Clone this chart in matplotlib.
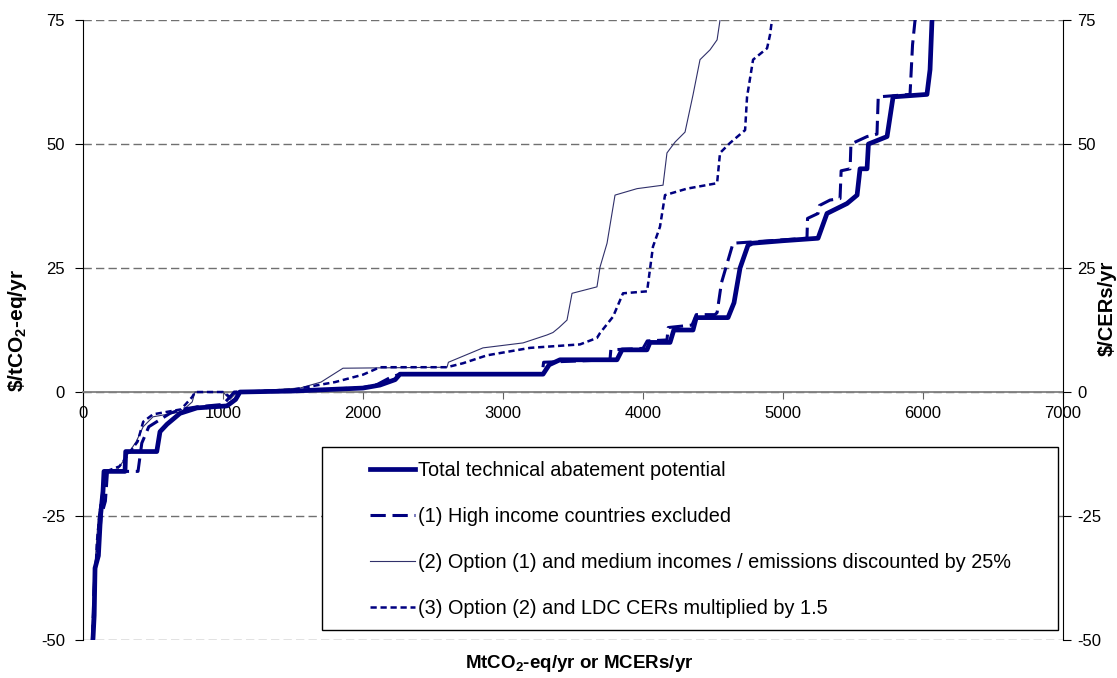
import matplotlib
matplotlib.use("Agg")
import matplotlib.pyplot as plt
from matplotlib.patches import Rectangle

plt.rcParams['font.family'] = ['Liberation Sans', 'DejaVu Sans']
plt.rcParams['mathtext.default'] = 'regular'
plt.rcParams['axes.unicode_minus'] = False

# Total technical abatement potential
total_x = [71, 80, 86, 110, 125, 143, 150, 300, 305, 527, 550, 600, 693, 814, 1028, 1090, 1121,
           1500, 2000, 2121, 2230, 2264, 3286, 3330, 3407, 3814, 3850, 4028, 4050, 4193, 4220,
           4357, 4380, 4607, 4650, 4693, 4750, 4780, 5000, 5250, 5314, 5457, 5529, 5550, 5600,
           5610, 5743, 5786, 6028, 6050, 6064]
total_y = [-50, -45, -35.5, -33, -25, -20, -16, -16, -12, -12, -8, -6.5, -4.3, -3.2, -2.8, -1.5, 0,
           0.2, 0.8, 1.4, 2.5, 3.6, 3.6, 5.5, 6.5, 6.5, 8.5, 8.5, 10, 10, 12.5,
           12.5, 15, 15, 18, 25, 29.6, 30, 30.5, 31, 36, 38, 39.7, 45, 45,
           50, 51.5, 59.5, 60, 65, 75]

# (1) High income countries excluded
hi_x = [68, 78, 90, 115, 130, 160, 175, 393, 420, 470, 621, 700, 814, 1000, 1050, 1080,
        1500, 2000, 2100, 2200, 2264, 3279, 3290, 3764, 3770, 4000, 4030, 4171, 4180, 4350,
        4380, 4514, 4529, 4560, 4643, 5171, 5175, 5250, 5260, 5336, 5407, 5415, 5479, 5485,
        5600, 5671, 5680, 5907, 5925, 5943]
hi_y = [-50, -40, -35, -30, -25, -22, -16, -16, -10.3, -7, -4.3, -3.5, -3, -2.5, -1, 0,
        0.2, 0.9, 1.5, 3, 3.6, 3.6, 6, 6.5, 8.5, 8.8, 10.3, 10.5, 13, 13.5,
        15.6, 15.6, 16, 22, 30, 31, 35, 36, 37.6, 38.7, 39, 44.6, 45, 50,
        51.5, 52, 59.5, 60, 70, 75]

# (2) Option (1) and medium incomes / emissions discounted by 25%
med_x = [60, 75, 90, 110, 130, 150, 165, 250, 380, 430, 500, 600, 700, 780, 800, 1000, 1050,
         1100, 1550, 1700, 1857, 2600, 2610, 2857, 3143, 3314, 3357, 3400, 3457, 3493, 3671,
         3693, 3743, 3800, 3957, 4143, 4171, 4229, 4300, 4357, 4407, 4479, 4529, 4550]
med_y = [-50, -40, -33, -25, -22, -18, -16, -15.5, -10, -7, -5, -4.5, -4, -2, 0, 0, -1.5,
         0, 0.8, 2, 4.8, 5, 6, 8.9, 9.9, 11.5, 12, 13, 14.5, 19.9, 21.2,
         25.2, 30, 39.7, 41, 41.7, 48.2, 50.4, 52.4, 59.9, 67, 69, 71, 75]

# (3) Option (2) and LDC CERs multiplied by 1.5
ldc_x = [70, 85, 100, 120, 150, 165, 260, 390, 430, 500, 700, 780, 800, 1000, 1050, 1100,
         1500, 1800, 2000, 2121, 2600, 2714, 2886, 3193, 3550, 3671, 3693, 3786, 3857, 4029,
         4071, 4121, 4157, 4314, 4529, 4550, 4621, 4729, 4743, 4786, 4886, 4907, 4921]
ldc_y = [-50, -40, -30, -24, -18, -16, -15, -10, -6, -4.5, -3.5, -1, 0, 0, -1, 0,
         0.5, 2, 3.5, 5, 5, 5.8, 7.4, 8.9, 9.6, 10.9, 11.9, 15.2, 19.9, 20.3,
         29.3, 33.3, 39.7, 41, 42.1, 48.2, 50.2, 52.8, 59.5, 67, 69.3, 72, 75]

x_ticks = list(range(0, 7001, 1000))
y_ticks = [-50, -25, 0, 25, 50, 75]

navy = '#000080'

fig = plt.figure(figsize=(11.17, 6.78), dpi=100)
ax = fig.add_axes([0.0743, 0.056, 0.8774, 0.9145])

ax.plot(total_x, total_y, color=navy, lw=3.4, label='Total technical abatement potential',
        zorder=5)
ax.plot(hi_x, hi_y, color=navy, lw=2.2, ls=(0, (5, 2.2)),
        label='(1) High income countries excluded', zorder=4)
ax.plot(med_x, med_y, color='#30306a', lw=0.8,
        label='(2) Option (1) and medium incomes / emissions discounted by 25%', zorder=3)
ax.plot(ldc_x, ldc_y, color=navy, lw=1.8, ls=(0, (2.5, 1.5)),
        label='(3) Option (2) and LDC CERs multiplied by 1.5', zorder=3)

ax.set_xlim(0, 7000)
ax.set_ylim(-50, 75)
ax.set_xticks(x_ticks)
ax.set_yticks(y_ticks)

# spines: x axis runs through zero
ax.spines['top'].set_visible(False)
ax.spines['right'].set_visible(False)
ax.spines['bottom'].set_position(('data', 0))
ax.spines['bottom'].set_color('#808080')
ax.spines['bottom'].set_linewidth(1.3)
ax.spines['left'].set_color('black')

ax.yaxis.grid(True, color='#707070', ls=(0, (6, 3)), lw=1.0)
ax.set_axisbelow(True)

ax.tick_params(axis='x', direction='out', length=5, color='#606060', labelsize=12, pad=5)
ax.tick_params(axis='y', direction='out', length=6, labelsize=12, pad=7)

ax2 = ax.twinx()
ax2.set_ylim(-50, 75)
ax2.set_yticks(y_ticks)
ax2.tick_params(axis='y', direction='out', length=6, labelsize=12, pad=4)
for s in ['top', 'bottom', 'left']:
    ax2.spines[s].set_visible(False)
ax2.spines['right'].set_color('black')

fig.text(0.016, 0.513, r'\$/tCO$_2$-eq/yr', rotation=90, ha='center', va='center',
         fontsize=15, fontweight='bold')
fig.text(0.991, 0.545, '$/CERs/yr', rotation=90, ha='center', va='center',
         fontsize=14.5, fontweight='bold')
fig.text(0.519, 0.022, 'MtCO$_2$-eq/yr or MCERs/yr', ha='center', va='center',
         fontsize=13.5, fontweight='bold')

# legend box
box = Rectangle((0.2439, 0.0161), 0.751, 0.2952, transform=ax.transAxes,
                facecolor='white', edgecolor='black', lw=1.0, zorder=6)
ax.add_patch(box)
leg = ax.legend(loc='center left', bbox_to_anchor=(0.2929, 0.1615), frameon=False,
                borderpad=0, borderaxespad=0, fontsize=14.3, handlelength=2.25,
                handletextpad=0.15, labelspacing=1.36)
leg.set_zorder(7)

fig.savefig('out.png', dpi=100, facecolor='white')
